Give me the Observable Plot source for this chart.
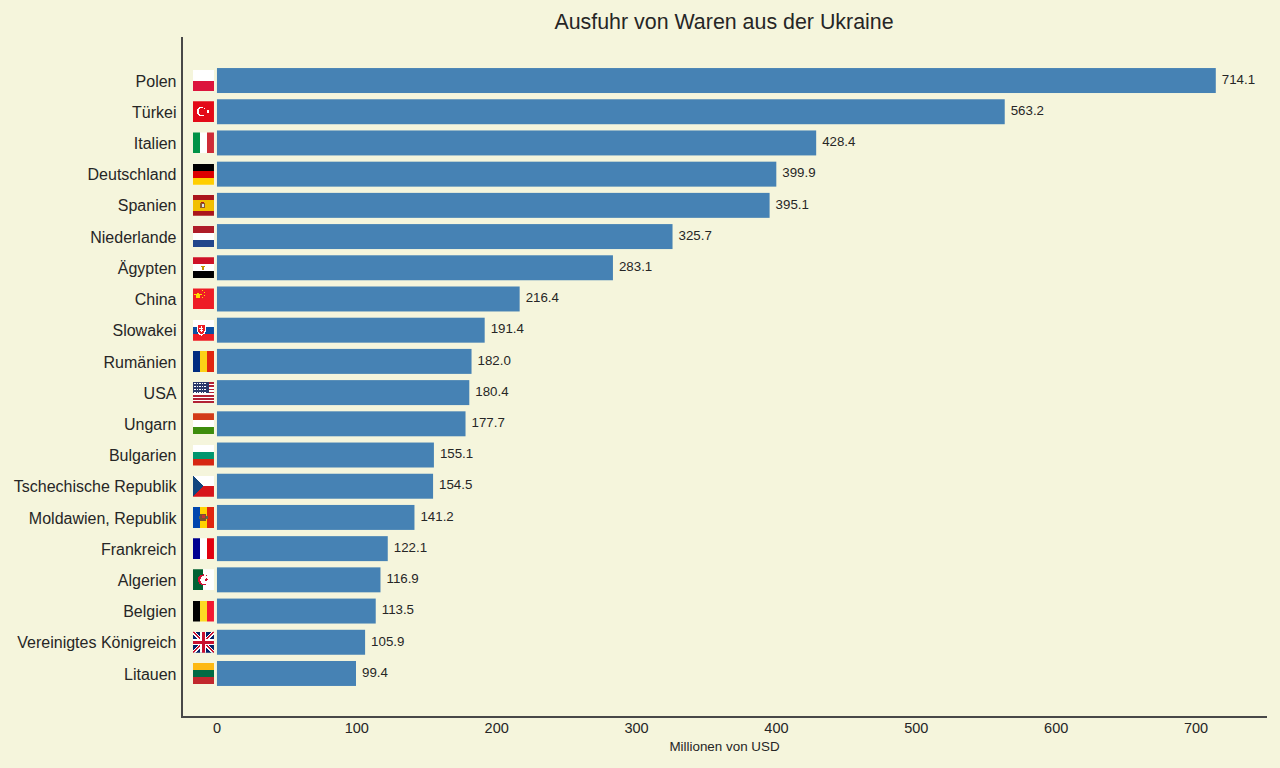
<!DOCTYPE html>
<html lang="de">
<head>
<meta charset="utf-8">
<script src="https://cdn.jsdelivr.net/npm/d3@7"></script>
<script src="https://cdn.jsdelivr.net/npm/@observablehq/plot@0.6"></script>
<style>
  html, body { margin: 0; padding: 0; background: #f5f5dc; }
  body { width: 1280px; height: 768px; overflow: hidden; font-family: "Liberation Sans", Arial, sans-serif; }
  #title { position: relative; height: 37px; box-sizing: border-box; padding-top: 10px; padding-left: 182px; padding-right: 14px;
           text-align: center; font-size: 21.4px; line-height: 24px; color: #262626; }
  svg { display: block; }
</style>
</head>
<body>
<div id="title">Ausfuhr von Waren aus der Ukraine</div>
<div id="chart"></div>
<script>
const countries = ["Polen","Türkei","Italien","Deutschland","Spanien","Niederlande","Ägypten","China","Slowakei","Rumänien","USA","Ungarn","Bulgarien","Tschechische Republik","Moldawien, Republik","Frankreich","Algerien","Belgien","Vereinigtes Königreich","Litauen"];
const values = [714.1,563.2,428.4,399.9,395.1,325.7,283.1,216.4,191.4,182.0,180.4,177.7,155.1,154.5,141.2,122.1,116.9,113.5,105.9,99.4];
const xTicks = [0,100,200,300,400,500,600,700];
const xLabel = ["Millionen von USD"];

const rect = (x,y,w,h,f) => `<rect x="${x}" y="${y}" width="${w}" height="${h}" fill="${f}"/>`;
const h3 = (a,b,c) => rect(0,0,21,7,a)+rect(0,7,21,7,b)+rect(0,14,21,7,c);
const v3 = (a,b,c) => rect(0,0,7,21,a)+rect(7,0,7,21,b)+rect(14,0,7,21,c);

const usaStripes = Array.from({length:13},(_,i)=>rect(0,i*21/13,21,21/13,i%2?"#fff":"#b22234")).join("");
const usaStars = [1,4,7,10].flatMap(y=>[1.5,4,6.5,9,11.5].map(x=>`<rect x="${x}" y="${y}" width="1.2" height="1.2" fill="#fff"/>`)).join("");

const flagArt = {
  "Polen": rect(0,0,21,10.5,"#fff")+rect(0,10.5,21,10.5,"#dc143c"),
  "Türkei": rect(0,0,21,21,"#e30a17")+`<circle cx="8.3" cy="10.5" r="4.7" fill="#fff"/><circle cx="9.5" cy="10.5" r="3.7" fill="#e30a17"/><circle cx="15" cy="10.5" r="1.5" fill="#fff"/>`,
  "Italien": v3("#009246","#fff","#ce2b37"),
  "Deutschland": h3("#000","#dd0000","#ffce00"),
  "Spanien": rect(0,0,21,21,"#aa151b")+rect(0,5.25,21,10.5,"#f1bf00")+`<rect x="7.5" y="8" width="5" height="5" fill="#8d5a2b"/><rect x="8.5" y="7" width="3" height="1.5" fill="#ad1519"/><rect x="9" y="9" width="2" height="3" fill="#dfe3ea"/>`,
  "Niederlande": h3("#ae1c28","#fff","#21468b"),
  "Ägypten": h3("#ce1126","#fff","#000")+`<rect x="9.5" y="8.5" width="2" height="4" fill="#c09300"/><rect x="8.5" y="9" width="4" height="1" fill="#c09300"/>`,
  "China": rect(0,0,21,21,"#ee1c25")+`<polygon points="5,3.2 5.9,6 8.8,6 6.5,7.7 7.4,10.4 5,8.8 2.6,10.4 3.5,7.7 1.2,6 4.1,6" fill="#ffde00"/><rect x="9.5" y="2" width="1" height="1" fill="#ffde00"/><rect x="11" y="4" width="1" height="1" fill="#ffde00"/><rect x="11" y="6.5" width="1" height="1" fill="#ffde00"/><rect x="9.5" y="8.5" width="1" height="1" fill="#ffde00"/>`,
  "Slowakei": h3("#fff","#0b4ea2","#ee1c25")+`<path d="M4 4.5h9v6c0 3-2.5 4.5-4.5 5.5C6.5 15 4 13.5 4 10.5z" fill="#fff"/><path d="M5 5.5h7v5c0 2.3-1.8 3.5-3.5 4.3C6.8 14 5 12.800 5 10.500z" fill="#ee1c25"/><rect x="8" y="6.500" width="1" height="6" fill="#fff"/><rect x="6.500" y="8" width="4" height="1" fill="#fff"/><rect x="7" y="10" width="3" height="1" fill="#fff"/>`,
  "Rumänien": v3("#002b7f","#fcd116","#e0260f"),
  "USA": usaStripes+rect(0,0,16,11.300,"#2b3a6b")+usaStars,
  "Ungarn": h3("#d33b17","#fff","#3d8c0c"),
  "Bulgarien": h3("#fff","#00966e","#d62612"),
  "Tschechische Republik": rect(0,0,21,10.500,"#fff")+rect(0,10.500,21,10.500,"#d7141a")+`<polygon points="0,0 10.500,10.500 0,21" fill="#11457e"/>`,
  "Moldawien, Republik": v3("#0046ae","#ffd200","#e0260f")+`<rect x="7.500" y="7" width="6" height="7" fill="#7a5230"/><rect x="9" y="8.500" width="3" height="3" fill="#cc3333"/><rect x="6" y="9" width="1.500" height="3" fill="#5a6a50"/><rect x="13.500" y="9" width="1.500" height="3" fill="#5a6a50"/>`,
  "Frankreich": v3("#000091","#fff","#e1000f"),
  "Algerien": rect(0,0,10.500,21,"#006233")+rect(10.500,0,10.500,21,"#fff")+`<circle cx="10.500" cy="10.500" r="5.500" fill="#d21034"/><circle cx="12" cy="10.500" r="4.600" fill="#fff"/><polygon points="13.500,8 14,9.700 15.800,9.700 14.300,10.700 14.900,12.400 13.500,11.400 12.100,12.400 12.700,10.700 11.200,9.700 13,9.700" fill="#d21034"/>`,
  "Belgien": v3("#000","#fdda24","#f31830"),
  "Vereinigtes Königreich": rect(0,0,21,21,"#012169")+`<path d="M0 0L21 21M21 0L0 21" stroke="#fff" stroke-width="3.500"/><path d="M0 0L21 21M21 0L0 21" stroke="#c8102e" stroke-width="1.200"/><rect x="7.500" y="0" width="6" height="21" fill="#fff"/><rect x="0" y="7.500" width="21" height="6" fill="#fff"/><rect x="9" y="0" width="3" height="21" fill="#c8102e"/><rect x="0" y="9" width="21" height="3" fill="#c8102e"/>`,
  "Litauen": h3("#fdb913","#006a44","#c1272d")
};
const flagUri = name => "data:image/svg+xml," + encodeURIComponent(
  `<svg xmlns="http://www.w3.org/2000/svg" width="21" height="21" viewBox="0 0 21 21" shape-rendering="crispEdges">${flagArt[name]}</svg>`);

const rows = countries.map((name,i)=>({name, value: values[i]}));
const ink = "#262626";

const chart = Plot.plot({
  width: 1280,
  height: 731,
  marginLeft: 182,
  marginRight: 14,
  marginTop: 0,
  marginBottom: 51,
  style: {background: "#f5f5dc", fontFamily: '"Liberation Sans", Arial, sans-serif', color: ink},
  x: {domain: [-25, 750]},
  y: {domain: countries, round: false, paddingInner: 0.2, paddingOuter: 0.995},
  marks: [
    Plot.barX(rows, {x: "value", y: "name", fill: "#4682b4"}),
    Plot.text(rows, {x: "value", y: "name", text: d => d.value.toFixed(1), textAnchor: "start", dx: 5.5, dy: -1.5, fontSize: 13.3, fill: ink}),
    Plot.image(rows, {x: () => 0, y: "name", src: d => flagUri(d.name), width: 21, height: 21, dx: -14, dy: -0.5, preserveAspectRatio: "none"}),
    Plot.axisY({tickSize: 0, tickPadding: 6, fontSize: 16, dy: 0.5, label: null, color: ink}),
    Plot.axisX({ticks: xTicks, tickSize: 0, tickPadding: 5, fontSize: 14.5, dx: -0.5, label: null, color: ink}),
    Plot.text(xLabel, {text: d => d, frameAnchor: "bottom", dy: 33, fontSize: 13.4, fill: ink}),
    Plot.frame({anchor: "left", stroke: "#484848", strokeWidth: 2, dx: -0.5, dy: -0.5}),
    Plot.frame({anchor: "bottom", stroke: "#484848", strokeWidth: 2, dx: -0.5, dy: -0.5})
  ]
});
document.getElementById("chart").appendChild(chart);
</script>
</body>
</html>
